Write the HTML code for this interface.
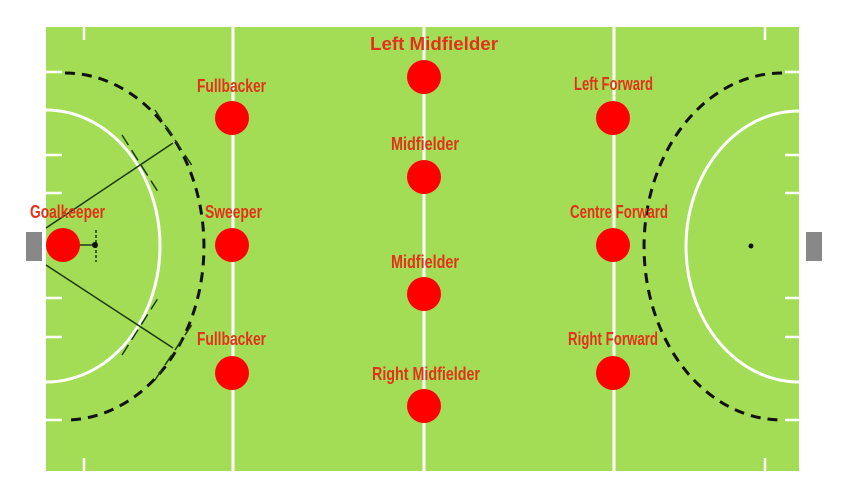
<!DOCTYPE html><html><head><style>body{margin:0;background:#fff}svg{display:block}</style></head><body>
<svg width="850" height="500" viewBox="0 0 850 500" xmlns="http://www.w3.org/2000/svg">
<rect width="850" height="500" fill="#fff"/>
<rect x="46" y="27" width="753" height="444" fill="#a3dd55"/>
<g stroke="#fff" stroke-width="3" fill="none">
<line x1="233" y1="27" x2="233" y2="471"/><line x1="424" y1="27" x2="424" y2="471"/><line x1="614" y1="27" x2="614" y2="471"/>
<path d="M46,110 A114,136 0 0 1 46,382"/>
<path d="M799,111 A113,135.5 0 0 0 799,382"/>
<g stroke-width="2.5">
<line x1="46" y1="72" x2="62" y2="72"/><line x1="46" y1="155" x2="62" y2="155"/><line x1="46" y1="193" x2="62" y2="193"/><line x1="46" y1="298" x2="62" y2="298"/><line x1="46" y1="337" x2="62" y2="337"/><line x1="46" y1="420" x2="62" y2="420"/>
<line x1="84" y1="27" x2="84" y2="40"/><line x1="84" y1="458" x2="84" y2="471"/>
<line x1="785" y1="72" x2="799" y2="72"/><line x1="785" y1="155" x2="799" y2="155"/><line x1="785" y1="193" x2="799" y2="193"/><line x1="785" y1="298" x2="799" y2="298"/><line x1="785" y1="337" x2="799" y2="337"/><line x1="785" y1="420" x2="799" y2="420"/>
<line x1="765" y1="27" x2="765" y2="40"/><line x1="765" y1="458" x2="765" y2="471"/>
</g></g>
<g stroke="#111" stroke-width="3" fill="none" stroke-dasharray="10,7">
<path d="M65,73 A139,173.5 0 0 1 65,420"/>
<path d="M782,73 A138,173.5 0 0 0 782,420"/>
</g>
<g stroke="#1a3a10" stroke-width="1.5" fill="none">
<line x1="46" y1="228" x2="173" y2="143"/><line x1="46" y1="265" x2="173" y2="348"/>
<line x1="155" y1="110" x2="195" y2="170" stroke-dasharray="12,6"/>
<line x1="122" y1="135" x2="160" y2="195" stroke-dasharray="12,6"/>
<line x1="155" y1="380" x2="195" y2="320" stroke-dasharray="12,6"/>
<line x1="122" y1="355" x2="160" y2="295" stroke-dasharray="12,6"/>
<line x1="78" y1="245" x2="96" y2="245"/><line x1="96" y1="230" x2="96" y2="262" stroke-dasharray="3,2"/>
</g>
<circle cx="95" cy="245" r="3" fill="#111"/>
<circle cx="751" cy="246" r="2.5" fill="#111"/>
<rect x="26" y="232" width="16" height="29" fill="#888"/>
<rect x="806" y="232" width="16" height="29" fill="#888"/>
<g fill="#ff0000">
<circle cx="63" cy="245" r="17"/><circle cx="232" cy="118" r="17"/><circle cx="232" cy="245" r="17"/><circle cx="232" cy="373" r="17"/>
<circle cx="424" cy="77" r="17"/><circle cx="424" cy="177" r="17"/><circle cx="424" cy="294" r="17"/><circle cx="424" cy="406" r="17"/>
<circle cx="613" cy="118" r="17"/><circle cx="613" cy="245" r="17"/><circle cx="613" cy="373" r="17"/>
</g>
<g fill="#e3321c" font-family="Liberation Sans, sans-serif" font-weight="bold" font-size="18">
<text x="370" y="50" textLength="128" lengthAdjust="spacingAndGlyphs">Left Midfielder</text>
<text x="197" y="92" textLength="69" lengthAdjust="spacingAndGlyphs">Fullbacker</text>
<text x="574" y="90" textLength="79" lengthAdjust="spacingAndGlyphs">Left Forward</text>
<text x="391" y="150" textLength="68" lengthAdjust="spacingAndGlyphs">Midfielder</text>
<text x="30" y="218" textLength="75" lengthAdjust="spacingAndGlyphs">Goalkeeper</text>
<text x="205" y="218" textLength="57" lengthAdjust="spacingAndGlyphs">Sweeper</text>
<text x="570" y="218" textLength="98" lengthAdjust="spacingAndGlyphs">Centre Forward</text>
<text x="391" y="268" textLength="68" lengthAdjust="spacingAndGlyphs">Midfielder</text>
<text x="197" y="345" textLength="69" lengthAdjust="spacingAndGlyphs">Fullbacker</text>
<text x="568" y="345" textLength="90" lengthAdjust="spacingAndGlyphs">Right Forward</text>
<text x="372" y="380" textLength="108" lengthAdjust="spacingAndGlyphs">Right Midfielder</text>
</g>
</svg></body></html>
